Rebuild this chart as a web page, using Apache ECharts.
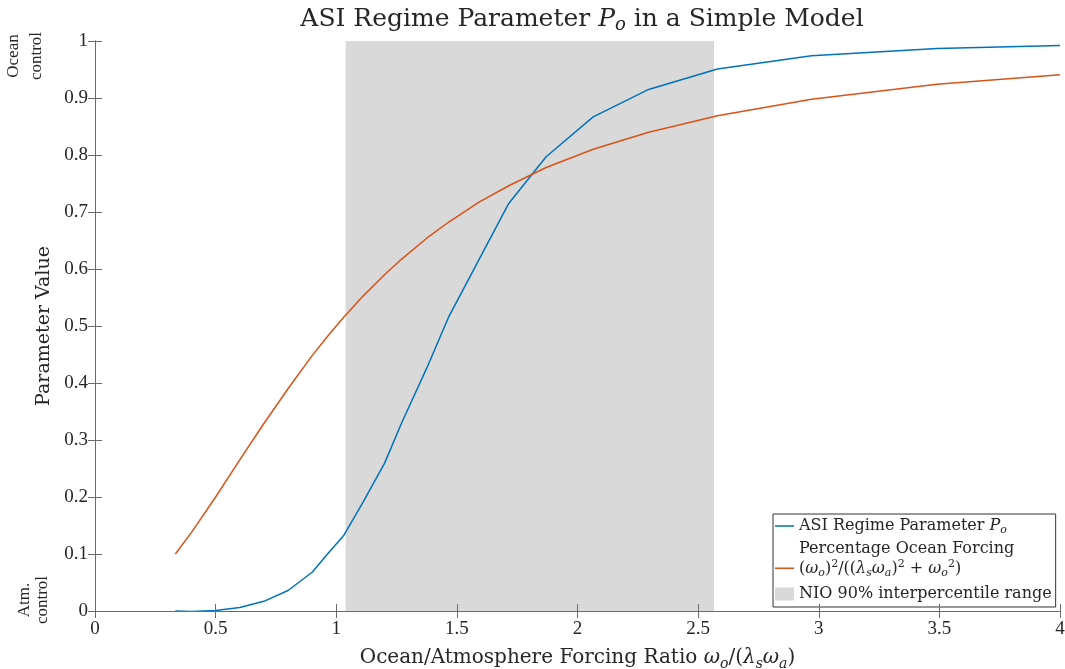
<!DOCTYPE html>
<html>
<head>
<meta charset="utf-8">
<script src="https://cdn.jsdelivr.net/npm/echarts@6/dist/echarts.min.js"></script>
<style>
html,body{margin:0;padding:0;background:#fff;}
#chart{width:1065px;height:669px;}
</style>
</head>
<body>
<div id="chart"></div>
<script>
// ---- data ----
const ratioX = [0.333,0.4,0.5,0.6,0.7,0.8,0.9,0.97,1.03,1.11,1.2,1.27,1.375,1.465,1.59,1.715,1.87,2.065,2.295,2.58,2.97,3.49,4.0];
const asiPo = [0.0,-0.001,0.001,0.006,0.017,0.036,0.068,0.103,0.132,0.19,0.259,0.329,0.426,0.515,0.615,0.715,0.797,0.867,0.915,0.951,0.974,0.987,0.992];
const oceanForcing = [0.1,0.138,0.2,0.265,0.329,0.39,0.448,0.485,0.515,0.552,0.59,0.617,0.654,0.682,0.717,0.746,0.778,0.81,0.84,0.869,0.898,0.924,0.941];
const nioRange = [1.039, 2.566];
const xTicks = {min:0, max:4, interval:0.5};
const yTicks = {min:0, max:1, interval:0.1};
const seriesNames = ['ASI Regime Parameter Po', 'Percentage Ocean Forcing', 'NIO 90% interpercentile range'];

const SERIF = "'DejaVu Serif','Liberation Serif',serif";
const NUMF = "'Liberation Serif','DejaVu Serif',serif";
const AXC = '#6b6b6b';
const TXT = '#262626';
function richSet(size, lh){
  return {
    t:{fontFamily:SERIF, fontSize:size, fontWeight:'normal', color:TXT, lineHeight:lh},
    i:{fontFamily:SERIF, fontSize:size, fontWeight:'normal', fontStyle:'italic', color:TXT, lineHeight:lh},
    sb:{fontFamily:SERIF, fontSize:Math.round(size*0.7), fontWeight:'normal', fontStyle:'italic', color:TXT, verticalAlign:'bottom', lineHeight:lh},
    sp:{fontFamily:SERIF, fontSize:Math.round(size*0.7), fontWeight:'normal', color:TXT, verticalAlign:'top', lineHeight:lh}
  };
}
const zip = (xs, ys) => xs.map((x, k) => [x, ys[k]]);

const chart = echarts.init(document.getElementById('chart'), null, {renderer:'canvas'});
const axisCommon = {
  type:'value', z:5,
  axisLine:{show:true, lineStyle:{color:AXC, width:1}},
  axisTick:{show:true, inside:true, length:7, lineStyle:{color:AXC, width:1}},
  splitLine:{show:false}
};
chart.setOption({
  animation:false,
  backgroundColor:'#fff',
  title:{
    text:'{t|ASI Regime Parameter }{i|P}{sb|o}{t| in a Simple Model}',
    left:577, top:-1, textAlign:'center',
    textStyle:{fontWeight:'normal', rich:richSet(25, 30)}
  },
  grid:{left:95, right:5, top:41, bottom:58, outerBoundsMode:'none', containLabel:false},
  legend:{
    orient:'vertical', left:773, top:514,
    backgroundColor:'#fff', borderColor:'#333', borderWidth:1,
    padding:[2,4,3,2], itemGap:5, itemWidth:19, itemHeight:20,
    data:[
      {name:seriesNames[0], icon:'path://M0,0L0.001,0M0,9.3L19,9.3L19,10.7L0,10.7ZM0,20L0.001,20'},
      {name:seriesNames[1], icon:'path://M0,0L0.001,0M0,18.6L19,18.6L19,20L0,20Z'},
      {name:seriesNames[2], icon:'path://M0,0L0.001,0M0,3.5L19,3.5L19,16.5L0,16.5ZM0,20L0.001,20'}
    ],
    formatter:function(name){
      if(name===seriesNames[0]) return '{t|ASI Regime Parameter }{i|P}{sb|o}';
      if(name===seriesNames[1]) return '{t|Percentage Ocean Forcing}\n{t|(}{i|ω}{sb|o}{t|)}{sp|2}{t|/((}{i|λ}{sb|s}{i|ω}{sb|a}{t|)}{sp|2}{t| + }{i|ω}{sb|o}{sp|2}{t|)}';
      return '{t|NIO 90% interpercentile range}';
    },
    textStyle:{rich:richSet(16, 20)}
  },
  xAxis:[
    Object.assign({}, axisCommon, {
      position:'bottom', min:xTicks.min, max:xTicks.max, interval:xTicks.interval,
      axisLabel:{show:true, margin:9, fontFamily:NUMF, fontSize:19, color:TXT},
      name:'{t|Ocean/Atmosphere Forcing Ratio }{i|ω}{sb|o}{t|/(}{i|λ}{sb|s}{i|ω}{sb|a}{t|)}',
      nameLocation:'middle', nameGap:34,
      nameTextStyle:{rich:richSet(20, 26)}
    }),
    Object.assign({}, axisCommon, {
      position:'top', min:xTicks.min, max:xTicks.max, interval:xTicks.interval,
      axisLabel:{show:false}
    })
  ],
  yAxis:[
    Object.assign({}, axisCommon, {
      position:'left', min:yTicks.min, max:yTicks.max, interval:yTicks.interval,
      axisLabel:{show:true, margin:7, fontFamily:NUMF, fontSize:19, color:TXT},
      name:'Parameter Value', nameLocation:'middle', nameGap:39, nameRotate:90,
      nameTextStyle:{fontFamily:SERIF, fontSize:19, color:TXT}
    }),
    Object.assign({}, axisCommon, {
      position:'right', min:yTicks.min, max:yTicks.max, interval:yTicks.interval,
      axisLabel:{show:false}
    })
  ],
  graphic:[
    {type:'text', x:25, y:56, rotation:Math.PI/2,
     style:{text:'Ocean\ncontrol', fontFamily:NUMF, fontSize:17, lineHeight:23, fill:TXT, align:'center', verticalAlign:'middle'}},
    {type:'text', x:34, y:600, rotation:Math.PI/2,
     style:{text:'Atm.\ncontrol', fontFamily:NUMF, fontSize:17, lineHeight:18, fill:TXT, align:'center', verticalAlign:'middle'}}
  ],
  series:[
    {
      name:seriesNames[2], type:'bar', data:[], xAxisIndex:0, yAxisIndex:0,
      itemStyle:{color:'#d9d9d9'},
      markArea:{silent:true, itemStyle:{color:'#d9d9d9'},
        data:[[{xAxis:nioRange[0]},{xAxis:nioRange[1]}]]}
    },
    {
      name:seriesNames[0], type:'line', data:zip(ratioX, asiPo),
      showSymbol:false, symbol:'none', smooth:false,
      lineStyle:{color:'#0072BD', width:1.5}, itemStyle:{color:'#0072BD'}
    },
    {
      name:seriesNames[1], type:'line', data:zip(ratioX, oceanForcing),
      showSymbol:false, symbol:'none', smooth:false,
      lineStyle:{color:'#D95319', width:1.5}, itemStyle:{color:'#D95319'}
    }
  ]
});
</script>
</body>
</html>
